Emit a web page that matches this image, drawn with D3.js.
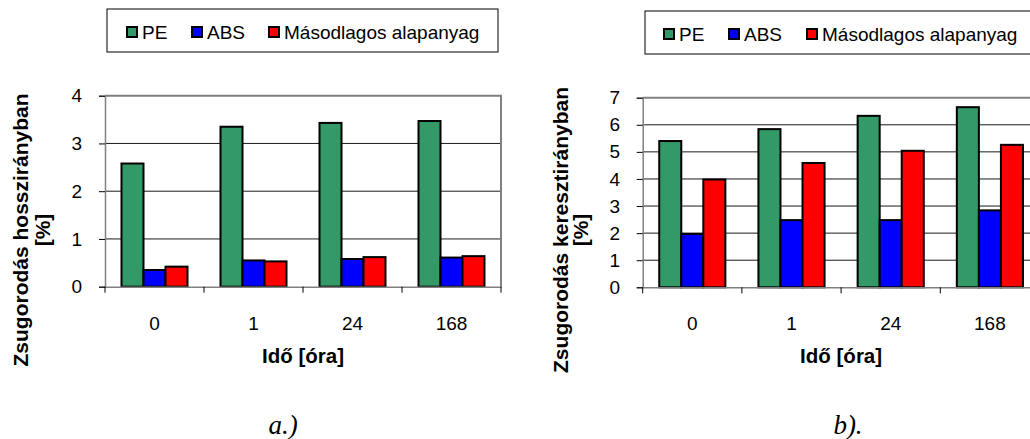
<!DOCTYPE html>
<html><head><meta charset="utf-8">
<script src="https://cdn.jsdelivr.net/npm/d3@7"></script>
<style>body{margin:0;background:#fff}svg{display:block}text{font-family:"Liberation Sans",Arial,sans-serif}text.cap{font-family:"Liberation Serif","Times New Roman",serif;font-style:italic}</style>
</head><body>
<svg id="c" width="1030" height="439"></svg>
<script>
const categories = ["0","1","24","168"];
const seriesNames = ["PE","ABS","Másodlagos alapanyag"];
const seriesColors = ["#339966","#0000ff","#ff0000"];
// chart a) Zsugorodás hosszirányban
const aPE  = [2.58, 3.35, 3.43, 3.47];
const aABS = [0.35, 0.55, 0.58, 0.61];
const aMas = [0.42, 0.53, 0.62, 0.64];
const aTicks = [0,1,2,3,4];
// chart b) Zsugorodás keresztirányban
const bPE  = [5.40, 5.84, 6.33, 6.65];
const bABS = [1.97, 2.48, 2.48, 2.84];
const bMas = [3.98, 4.59, 5.04, 5.26];
const bTicks = [0,1,2,3,4,5,6,7];

const svg = d3.select("#c");

function drawChart(cfg){
  const g = svg.append("g");
  const x = d3.scaleBand().domain(categories).range([cfg.left, cfg.right]).paddingInner(0).paddingOuter(0);
  const x1 = d3.scaleBand().domain(seriesNames).range([0, x.bandwidth()]).paddingInner(0).paddingOuter(0.75);
  const y = d3.scaleLinear().domain([0, cfg.max]).range([cfg.bottom, cfg.top]);

  // gridlines
  g.append("g").selectAll("line").data(cfg.ticks.filter(t => t>0 && t<cfg.max)).join("line")
    .attr("x1", cfg.left).attr("x2", cfg.right)
    .attr("y1", d => y(d)).attr("y2", d => y(d))
    .attr("stroke", "#1a1a1a").attr("stroke-width", 1);
  // plot border top/right
  g.append("path")
    .attr("d", `M${cfg.left},${y(cfg.max)}H${cfg.right}V${cfg.bottom}`)
    .attr("fill","none").attr("stroke","#808080").attr("stroke-width",2);

  // bars
  const data = cfg.series;
  g.append("g").selectAll("g").data(categories).join("g")
    .attr("transform", d => `translate(${x(d)},0)`)
    .selectAll("rect").data((c,i) => seriesNames.map((s,k) => ({s, v: data[k][i], k}))).join("rect")
    .attr("x", d => x1(d.s)).attr("width", x1.bandwidth())
    .attr("y", d => y(d.v)).attr("height", d => cfg.bottom - y(d.v))
    .attr("fill", d => seriesColors[d.k]).attr("stroke", "#000").attr("stroke-width", 2);

  // y axis
  const ya = d3.axisLeft(y).tickValues(cfg.ticks).tickSize(6).tickPadding(0).tickFormat(d3.format("d"));
  const yg = g.append("g").attr("transform", `translate(${cfg.left},0)`).call(ya);
  yg.select(".domain").attr("stroke","#808080").attr("stroke-width",1.5);
  yg.selectAll(".tick line").attr("stroke","#000");
  yg.selectAll(".tick text").attr("x", cfg.yLabelX - cfg.left).attr("font-size", 19)
    .attr("fill","#000");

  // x axis
  const xa = d3.axisBottom(x).tickSize(0).tickPadding(0);
  const xg = g.append("g").attr("transform", `translate(0,${cfg.bottom})`).call(xa);
  xg.select(".domain").attr("stroke","#808080").attr("stroke-width",1.5);
  xg.selectAll(".tick text").attr("y", 330 - cfg.bottom).attr("dy", 0).attr("font-size", 19)
    .attr("fill","#000");
  // category boundary ticks
  const bounds = categories.map(c => x(c)).concat([x(categories[categories.length-1]) + x.bandwidth()]);
  g.append("g").selectAll("line").data(bounds).join("line")
    .attr("x1", d => d).attr("x2", d => d)
    .attr("y1", cfg.bottom).attr("y2", cfg.bottom + 6)
    .attr("stroke", "#000").attr("stroke-width", 1);

  // x title
  g.append("text").attr("x", (cfg.left + cfg.right)/2).attr("y", 363)
    .attr("text-anchor","middle").attr("font-weight","bold").attr("font-size", 20.5)
    .text("Idő [óra]");

  // y title (two lines)
  g.append("text").attr("transform", `translate(${cfg.yt1},${cfg.ytc}) rotate(-90)`)
    .attr("text-anchor","middle").attr("font-weight","bold").attr("font-size", 21)
    .text(cfg.ytitle);
  g.append("text").attr("transform", `translate(${cfg.yt2},${cfg.ytc}) rotate(-90)`)
    .attr("text-anchor","middle").attr("font-weight","bold").attr("font-size", 21)
    .text("[%]");

  // legend
  const lg = g.append("g");
  lg.append("rect").attr("x", cfg.lx).attr("y", cfg.ly).attr("width", cfg.lw).attr("height", 43)
    .attr("fill","#fff").attr("stroke","#000").attr("stroke-width",1);
  seriesNames.forEach((s,k) => {
    const sx = cfg.lx + cfg.lOff[k];
    lg.append("rect").attr("x", sx).attr("y", cfg.ly + 18).attr("width", 10).attr("height", 10)
      .attr("fill", seriesColors[k]).attr("stroke","#000").attr("stroke-width",2);
    lg.append("text").attr("x", sx + 15).attr("y", cfg.ly + 29.5).attr("font-size", 19).text(s);
  });

  // caption
  g.append("text").attr("class","cap").attr("x", cfg.capX).attr("y", 434).attr("text-anchor","middle")
    .attr("font-size", 27).text(cfg.caption);
}

drawChart({left:105, right:501, top:95.7, bottom:286.7, max:4, ticks:aTicks,
  series:[aPE,aABS,aMas], yLabelX:82, ytitle:"Zsugorodás hosszirányban",
  yt1:28, yt2:50, ytc:230, lx:107, ly:9, lw:391, lOff:[20,85,162],
  capX:283, caption:"a.)"});
drawChart({left:642.7, right:1039.5, top:97.7, bottom:287.3, max:7, ticks:bTicks,
  series:[bPE,bABS,bMas], yLabelX:620, ytitle:"Zsugorodás keresztirányban",
  yt1:568, yt2:588, ytc:230, lx:645, ly:11, lw:420, lOff:[19,84,162],
  capX:848, caption:"b)."});
</script>
</body></html>
